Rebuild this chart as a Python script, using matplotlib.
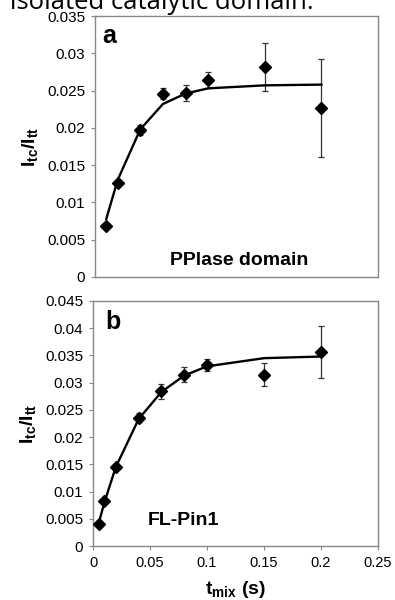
import numpy as np
import matplotlib
matplotlib.use('Agg')
import matplotlib.pyplot as plt

plt.rcParams['font.family'] = ['Liberation Sans', 'DejaVu Sans']
plt.rcParams['mathtext.fontset'] = 'custom'
plt.rcParams['mathtext.rm'] = 'Liberation Sans:bold'
plt.rcParams['mathtext.it'] = 'Liberation Sans:bold'
plt.rcParams['mathtext.bf'] = 'Liberation Sans:bold'

# panel a - PPIase domain
t_a = [0.01, 0.02, 0.04, 0.06, 0.08, 0.1, 0.15, 0.2]
ratio_a = [0.0068, 0.0126, 0.0197, 0.0246, 0.0247, 0.0264, 0.0282, 0.0227]
err_a = [0.0002, 0.0004, 0.0007, 0.0007, 0.0011, 0.0011, 0.0032, 0.0066]
fit_a = [0.0078, 0.0130, 0.0198, 0.0232, 0.0246, 0.0253, 0.0257, 0.0258]

# panel b - FL-Pin1
t_b = [0.005, 0.01, 0.02, 0.04, 0.06, 0.08, 0.1, 0.15, 0.2]
ratio_b = [0.0041, 0.0082, 0.0146, 0.0236, 0.0284, 0.0315, 0.0333, 0.0315, 0.0356]
err_b = [0.0002, 0.0003, 0.0005, 0.0009, 0.0014, 0.0013, 0.0011, 0.0022, 0.0048]
fit_b = [0.0042, 0.0080, 0.0145, 0.0233, 0.0283, 0.0313, 0.0330, 0.0345, 0.0348]

yticks_a = [0, 0.005, 0.01, 0.015, 0.02, 0.025, 0.03, 0.035]
yticks_b = [0, 0.005, 0.01, 0.015, 0.02, 0.025, 0.03, 0.035, 0.04, 0.045]
xticks = [0, 0.05, 0.1, 0.15, 0.2, 0.25]


def fmt(v):
    return '0' if v == 0 else ('%g' % v)


fig = plt.figure(figsize=(3.95, 6.0), dpi=100)
ax1 = fig.add_axes([95 / 395, 1 - 277 / 600, 283 / 395, 261 / 600])
ax2 = fig.add_axes([93 / 395, 1 - 546 / 600, 285 / 395, 245 / 600])

# leftover caption line, cut by the top edge as in the source image
fig.text(10 / 395, 1 - 9 / 600, 'isolated catalytic domain.', fontsize=18.5,
         family=['Open Sans', 'DejaVu Sans'], va='baseline', ha='left')

for ax, t, r, e, f, yt, lab, lab_xy, name, name_xy in [
        (ax1, t_a, ratio_a, err_a, fit_a, yticks_a, 'a', (0.025, 0.968), 'PPlase domain', (0.265, 0.065)),
        (ax2, t_b, ratio_b, err_b, fit_b, yticks_b, 'b', (0.042, 0.962), 'FL-Pin1', (0.193, 0.106))]:
    ax.errorbar(t, r, yerr=e, fmt='none', ecolor='#333333', elinewidth=0.9,
                capsize=2.5, capthick=0.9, zorder=2)
    ax.plot(t, f, color='black', lw=1.7, zorder=3)
    ax.plot(t, r, 'D', color='black', markersize=6, zorder=4)
    ax.set_xlim(0, 0.25)
    ax.set_ylim(yt[0], yt[-1])
    ax.set_yticks(yt)
    ax.set_yticklabels([fmt(v) for v in yt], fontsize=11)
    for s in ax.spines.values():
        s.set_color('#888888')
        s.set_linewidth(1.0)
    ax.tick_params(axis='both', direction='out', length=3, width=0.8, color='#888888', pad=4)
    ax.set_ylabel(r'$\mathregular{I_{tc}/I_{tt}}$', fontsize=14, fontweight='bold', labelpad=5)
    ax.text(lab_xy[0], lab_xy[1], lab, transform=ax.transAxes, fontsize=18,
            fontweight='bold', va='top', ha='left')
    ax.text(name_xy[0], name_xy[1], name, transform=ax.transAxes, fontsize=14,
            fontweight='bold', va='center', ha='left')

ax1.set_xticks([])
ax2.set_xticks(xticks)
ax2.set_xticklabels([fmt(v) for v in xticks], fontsize=10.5)
ax2.set_xlabel(r'$\mathregular{t_{mix}}$ (s)', fontsize=14, fontweight='bold', labelpad=7)

fig.savefig('out.png', dpi=100)
